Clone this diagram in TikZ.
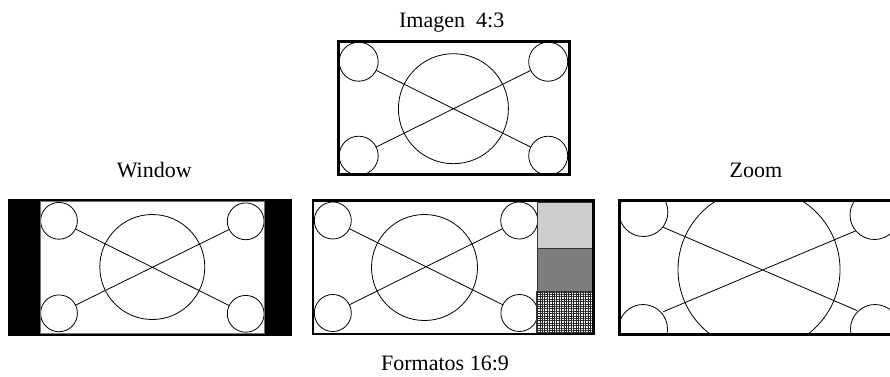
\documentclass[tikz,border=0pt]{standalone}
\usepackage{fontspec}
\setmainfont{Liberation Serif}
\usetikzlibrary{patterns.meta}
\begin{document}
\begin{tikzpicture}[x=1pt,y=-1pt,
  thinline/.style={line width=0.8pt},
  frame/.style={line width=3pt},
  cornercirc/.style={draw, line width=0.8pt, fill=white},
  lab/.style={font=\fontsize{22}{26}\selectfont, anchor=base, inner sep=0pt},
  panel/.style={draw=black!80, line width=0.7pt}]
\useasboundingbox (0,0) rectangle (890,376);

% ---------- labels ----------
\node[lab] (title) at (451.7,27.3) {Imagen\ \ 4:3};
\node[lab] (win) at (154.2,177.7) {Window};
\node[lab] (zoomlab) at (756,177.7) {Zoom};
\node[lab] (fmt) at (445,370.5) {Formatos 16:9};

% ---------- top 4:3 image ----------
\coordinate (t-tl) at (358.7,61.7);
\coordinate (t-tr) at (548.2,61.7);
\coordinate (t-bl) at (358.7,155.7);
\coordinate (t-br) at (548.2,155.7);
\coordinate (t-c) at (453.4,108.7);
\draw[thinline] (t-tl) -- (t-br) (t-bl) -- (t-tr);
\draw[thinline] (t-c) circle[radius=55pt];
\foreach \p in {tl,tr,bl,br} \draw[cornercirc] (t-\p) circle[radius=19.5pt];
\draw[frame] (338.3,41.3) rectangle (569.2,174.6);

% ---------- Window ----------
\fill[black] (8.3,199.3) rectangle (292,335.7);
\fill[white] (40.7,201.7) rectangle (264.3,333.3);
\begin{scope}
\clip (40.7,201.7) rectangle (264.3,333.3);
\coordinate (w-tl) at (59,220.8);
\coordinate (w-tr) at (245.7,221.3);
\coordinate (w-bl) at (59,313.3);
\coordinate (w-br) at (245.7,313.8);
\coordinate (w-c) at (152.3,267);
\draw[thinline] (w-tl) -- (w-br) (w-bl) -- (w-tr);
\draw[thinline] (w-c) circle[radius=52.5pt];
\foreach \p in {tl,tr,bl,br} \draw[cornercirc] (w-\p) circle[radius=18.4pt];
\end{scope}
\draw[draw=black!55, line width=0.6pt] (40.7,201.7) rectangle (264.3,333.3);

% ---------- middle 16:9 ----------
\coordinate (m-tl) at (332.8,220.5);
\coordinate (m-tr) at (519.2,220.5);
\coordinate (m-bl) at (332.8,313);
\coordinate (m-br) at (519.4,313);
\coordinate (m-c) at (424.5,267.5);
\draw[thinline] (m-tl) -- (m-br) (m-bl) -- (m-tr);
\draw[thinline] (m-c) circle[radius=53pt];
\foreach \p in {tl,tr,bl,br} \draw[cornercirc] (m-\p) circle[radius=18.5pt];
% side panels
\fill[black!17] (537.3,202.3) rectangle (592,248.3);
\fill[pattern={Dots[distance=2pt,radius=0.45pt]}, pattern color=black!45] (537.3,202.3) rectangle (592,248.3);
\fill[black!42] (537.3,248.3) rectangle (592,291.7);
\fill[pattern={Dots[distance=2pt,radius=0.6pt]}, pattern color=black!80] (537.3,248.3) rectangle (592,291.7);
\fill[white] (536,291.7) rectangle (592,332.7);
\fill[pattern={Hatch[distance=2.4pt,line width=0.9pt,angle=0]}, pattern color=black!85] (536,291.7) rectangle (592,332.7);
\draw[panel] (537.3,202.3) rectangle (592,248.3);
\draw[panel] (537.3,248.3) rectangle (592,291.7);
\draw[panel] (536,291.7) rectangle (592,332.7);
\draw[frame, line width=2.7pt] (313,200.7) rectangle (593.3,334);

% ---------- Zoom ----------
\coordinate (z-a1) at (663.3,227.3);
\coordinate (z-a2) at (857,310.5);
\coordinate (z-b1) at (663.3,311.7);
\coordinate (z-b2) at (856,230.7);
\coordinate (z-c) at (759,269.5);
\coordinate (z-tl) at (643.4,212);
\coordinate (z-tr) at (874.5,215);
\coordinate (z-bl) at (643,329);
\coordinate (z-br) at (875,329);
\begin{scope}
\clip (620.5,202.2) rectangle (890,333.2);
\draw[thinline] (z-a1) -- (z-a2) (z-b1) -- (z-b2);
\draw[thinline] (z-c) circle[radius=81pt];
\foreach \p in {tl,tr,bl,br} \draw[cornercirc] (z-\p) circle[radius=24.5pt];
\end{scope}
\draw[frame] (619,200.7) rectangle (900,334.7);
\end{tikzpicture}
\end{document}
